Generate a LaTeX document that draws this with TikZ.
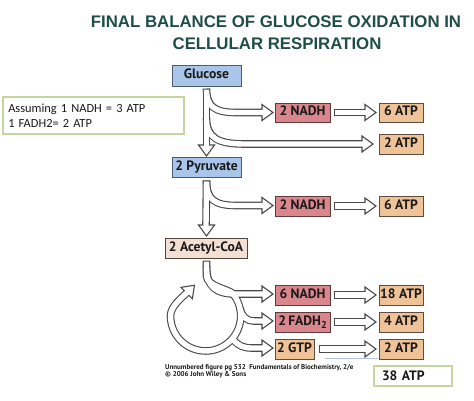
\documentclass[tikz,border=0pt]{standalone}
\usepackage{fontspec}
\newfontfamily\lblfont{PT Sans}
\newfontfamily\titlefont{Liberation Sans}
\newfontfamily\notefont{Carlito}
\usetikzlibrary{calc}
\definecolor{titlecol}{HTML}{1F4E48}
\definecolor{bluefill}{HTML}{A9C5EA}
\definecolor{blueedge}{HTML}{4E5A6E}
\definecolor{redfill}{HTML}{D9868C}
\definecolor{rededge}{HTML}{5E3A3C}
\definecolor{tanfill}{HTML}{F0C297}
\definecolor{tanedge}{HTML}{5E4C3E}
\definecolor{peachfill}{HTML}{F4E0D2}
\definecolor{peachedge}{HTML}{4E4440}
\definecolor{greenedge}{HTML}{C5D69C}
\definecolor{arrgray}{HTML}{4A4A4A}
\definecolor{txt}{HTML}{1A1A1A}
\definecolor{faintblue}{HTML}{B4C4DE}
\newcommand\ahd[3]{\filldraw[headst, shift={(#1,#2)}, rotate=#3] (0,-8) -- (11,0) -- (0,8) -- cycle;}
\begin{document}
\begin{tikzpicture}[x=1pt,y=-1pt,
  box/.style={rectangle, inner sep=0pt, line width=1pt, font=\lblfont\bfseries\fontsize{13.6}{14}\selectfont, text=txt, text height=9.4pt, text depth=2.8pt, minimum height=20pt},
  bluebox/.style={box, fill=bluefill, draw=blueedge, minimum width=69pt},
  redbox/.style={box, fill=redfill, draw=rededge, minimum width=55pt},
  tanbox/.style={box, fill=tanfill, draw=tanedge, minimum width=44pt},
  peachbox/.style={box, fill=peachfill, draw=peachedge, minimum width=82pt},
  greenbox/.style={rectangle, draw=greenedge, line width=1.3pt, fill=white},
  outerA/.style={draw=arrgray, line width=7.6pt},
  innerA/.style={draw=white, line width=5.4pt, shorten <=1.1pt},
  headst/.style={fill=white, draw=arrgray, line width=1.1pt, line join=miter},
  ttl/.style={font=\titlefont\bfseries\fontsize{16.8}{18}\selectfont, text=titlecol, inner sep=0pt, anchor=base},
  capt/.style={anchor=base west, inner sep=0pt, font=\lblfont\bfseries\fontsize{7}{8}\selectfont, text=txt}
]
\useasboundingbox (0,0) rectangle (474,400);

% title
\node[ttl] (t1) at (276,27) {FINAL BALANCE OF GLUCOSE OXIDATION IN};
\node[ttl] (t2) at (277,49) {CELLULAR RESPIRATION};

% boxes
\node[bluebox, minimum height=21pt] (glucose) at (206.5,75.5) {Glucose};
\node[bluebox] (pyr) at (206.5,167) {2 Pyruvate};
\node[peachbox] (acetyl) at (206,248) {2 Acetyl-CoA};

\node[redbox, minimum height=19pt] (nadha) at (302.5,112.5) {2 NADH};
\node[tanbox, minimum height=19pt] (atpa) at (401,112.5) {6 ATP};
\node[tanbox] (atpb) at (401,144) {2 ATP};
\node[redbox] (nadhb) at (302.5,206) {2 NADH};
\node[tanbox] (atpc) at (401,206) {6 ATP};
\node[redbox] (nadhc) at (302.5,295) {6 NADH};
\node[tanbox] (atpd) at (401,295) {18 ATP};
\node[redbox] (fadh) at (302.5,322) {2\,FADH{\fontsize{10}{10}\selectfont\raisebox{-2.8pt}{2}}};
\node[tanbox] (atpe) at (401,322) {4 ATP};
\node[tanbox, minimum width=39pt] (gtp) at (294.5,349) {2 GTP};
\node[tanbox] (atpf) at (401,349) {2 ATP};

\node[greenbox, minimum height=20pt, inner xsep=8pt, text width=62pt, align=left,
      font=\lblfont\bfseries\fontsize{13.6}{14}\selectfont, text=txt] (total) at (413,376) {38 ATP};

\node[greenbox, minimum height=37pt, inner xsep=5.3pt, text width=170.4pt, align=left,
      font=\notefont\fontsize{12.4}{15.3}\selectfont, text=txt] (assume) at (93.5,115.5)
      {Assuming 1 NADH = 3 ATP\\1 FADH2= 2 ATP};

% caption
\node[capt] (cap1) at (165,369.5) {Unnumbered figure pg 532\ \ Fundamentals of Biochemistry, 2/e};
\node[capt] (cap2) at (165,376.5) {\textcopyright\ 2006 John Wiley \& Sons};
\draw[faintblue, line width=0.6pt] (325,358) -- (378,358);

% hollow arrows
\newcommand\allshafts[1]{%
  \draw[#1] ($(glucose.south)+(0,2)$) -- ($(pyr.north)+(0,-10.5)$);
  \draw[#1] ($(glucose.south)+(0,2)$) .. controls (206.5,106) and (214,112.5) .. (236,112.5) -- ($(nadha.west)+(-11.5,0)$);
  \draw[#1] (206.5,118) .. controls (206.5,138) and (218,144) .. (245,144) -- ($(atpb.west)+(-15.5,0)$);
  \draw[#1] ($(nadha.east)+(3,0)$) -- ($(atpa.west)+(-12.5,0)$);
  \draw[#1] ($(pyr.south)+(0,3)$) -- ($(acetyl.north)+(0,-11.5)$);
  \draw[#1] ($(pyr.south)+(0,3)$) .. controls (206.5,199) and (214,205.5) .. (236,205.5) -- ($(nadhb.west)+(-11.5,-0.5)$);
  \draw[#1] ($(nadhb.east)+(3,0)$) -- ($(atpc.west)+(-12.5,0)$);
  \draw[#1] (206.5,266) .. controls (206.5,287) and (216,294) .. (236,294) -- ($(nadhc.west)+(-11.5,-1)$);
  \draw[#1] (240,308) .. controls (242,317) and (247,321) .. (254,321) -- ($(fadh.west)+(-11.5,-1)$);
  \draw[#1] (232.5,338.5) .. controls (238,346) and (244,348) .. (252,348) -- ($(gtp.west)+(-11.5,-1)$);
  \draw[#1] ($(acetyl.south)+(0.5,2)$) -- (206.5,276) .. controls (206.5,286) and (229.3,289.5) .. (232.5,293.3)
      arc[start angle=-40, end angle=180, radius=35.1] .. controls (170.5,306) and (182.5,297.2) .. (187.8,291.9);
  \draw[#1] ($(nadhc.east)+(3,0)$) -- ($(atpd.west)+(-12.5,0)$);
  \draw[#1] ($(fadh.east)+(3,0)$) -- ($(atpe.west)+(-12.5,0)$);
  \draw[#1] ($(gtp.east)+(4,0)$) -- ($(atpf.west)+(-12.5,0)$);
}
\allshafts{outerA}
\ahd{206.5}{145}{-90}
\ahd{262}{112.5}{0}
\ahd{362}{144}{0}
\ahd{365}{112.5}{0}
\ahd{206.5}{225}{-90}
\ahd{262}{205.5}{0}
\ahd{365}{206}{0}
\ahd{262}{294}{0}
\ahd{262}{321}{0}
\ahd{262}{348}{0}
\ahd{186.7}{293}{45}
\ahd{365}{295}{0}
\ahd{365}{322}{0}
\ahd{365}{349}{0}
\allshafts{innerA}
\end{tikzpicture}
\end{document}
